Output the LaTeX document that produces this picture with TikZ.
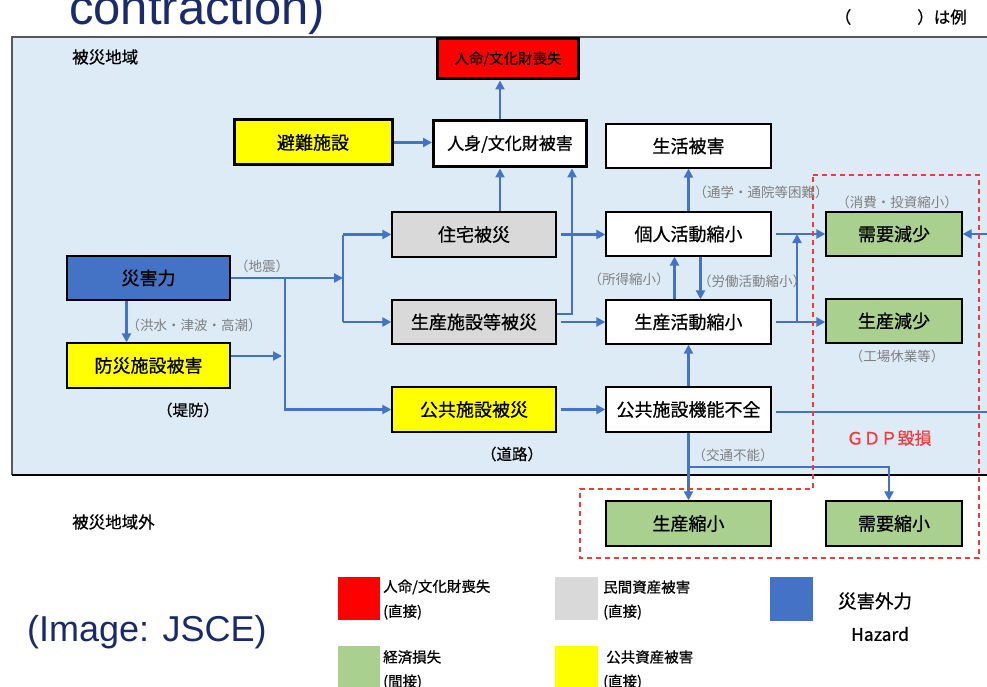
\documentclass[tikz,border=0pt]{standalone}
\usepackage{fontspec}
\setmainfont{Noto Sans CJK JP}
\newfontfamily\jpm[FakeBold=0.7]{Noto Sans CJK JP}
\newfontfamily\latfont{Liberation Sans}
\usetikzlibrary{arrows.meta,calc}
\definecolor{bgblue}{HTML}{DDEBF7}
\definecolor{arrowblue}{HTML}{4472C4}
\definecolor{hazblue}{HTML}{4472C4}
\definecolor{lossred}{HTML}{FF0000}
\definecolor{privgray}{HTML}{D9D9D9}
\definecolor{econgreen}{HTML}{A9D08E}
\definecolor{pubyellow}{HTML}{FFFF00}
\definecolor{labelgray}{HTML}{7F7F7F}
\definecolor{navy}{HTML}{1A2B6B}
\definecolor{dashred}{HTML}{F23A3A}
\newcommand\myfs[1]{\fontsize{#1}{#1}\selectfont}
\tikzset{
  box/.style={draw=black, line width=1.3pt, inner sep=0pt, font=\jpm\myfs{18}},
  thickbox/.style={draw=black, line width=3pt, inner sep=0pt},
  arr/.style={draw=arrowblue, line width=2.2pt, -{Triangle[length=9pt,width=9pt]}},
  bline/.style={draw=arrowblue, line width=2.2pt},
  glabel/.style={text=labelgray, font=\myfs{13.5}, inner sep=0pt},
  blabel/.style={text=black, font=\jpm\myfs{15.5}, inner sep=0pt},
  legtext/.style={text=black, font=\jpm\myfs{14.5}, inner sep=0pt, anchor=west},
  gdp/.style={draw=dashred, line width=1.4pt, dash pattern=on 5pt off 4pt},
}
\begin{document}
\begin{tikzpicture}[x=1pt,y=-1pt]
\useasboundingbox (0,0) rectangle (987,687);
\clip (0,0) rectangle (987,687);
\fill[white] (0,0) rectangle (987,687);

% title fragment and example note
\node[anchor=base west, text=navy, font={\latfont\fontsize{49}{49}\selectfont}, inner sep=0pt] (title) at (69,25) {contraction)};
\node[anchor=east, font=\jpm\myfs{16.5}, inner sep=0pt] (reinote) at (967,17) {（　　　　）は例};

% affected region background
\fill[bgblue] (12,37) rectangle (995,475);
\draw[draw=black!65, line width=1.3pt] (995,37) -- (12,37) -- (12,475);
\draw[draw=black, line width=2pt] (12,475) -- (995,475);
\node[font=\jpm\myfs{16.5}, anchor=west, inner sep=0pt] (inarea) at (72,57) {被災地域};
\node[font=\jpm\myfs{16.5}, anchor=west, inner sep=0pt] (outarea) at (72,522) {被災地域外};

% boxes
\node[thickbox, fill=lossred, minimum width=141, minimum height=40, font=\jpm\myfs{14.5}] (loss) at (508,59) {人命/文化財喪失};
\node[thickbox, fill=white, minimum width=153, minimum height=46, font=\jpm\myfs{17}] (body) at (510,144) {人身/文化財被害};
\node[thickbox, fill=pubyellow, minimum width=158, minimum height=45, font=\jpm\myfs{18}] (hinan) at (313,142.5) {避難施設};
\node[box, fill=white, minimum width=165, minimum height=44] (life) at (688.5,146) {生活被害};
\node[box, fill=privgray, minimum width=164, minimum height=45] (house) at (474,234.5) {住宅被災};
\node[box, fill=white, minimum width=165, minimum height=44] (pers) at (688.5,234) {個人活動縮小};
\node[box, fill=econgreen, minimum width=136, minimum height=44] (demand) at (894,234) {需要減少};
\node[box, fill=hazblue, minimum width=163, minimum height=44] (hazard) at (148.5,278) {災害力};
\node[box, fill=privgray, minimum width=164, minimum height=44] (prodfac) at (474,322) {生産施設等被災};
\node[box, fill=white, minimum width=165, minimum height=44] (prodact) at (688.5,322) {生産活動縮小};
\node[box, fill=econgreen, minimum width=136, minimum height=44] (prodred) at (894,321) {生産減少};
\node[box, fill=pubyellow, minimum width=163, minimum height=45] (protect) at (148.5,365.5) {防災施設被害};
\node[box, fill=pubyellow, minimum width=164, minimum height=45] (pubfac) at (474,409.5) {公共施設被災};
\node[box, fill=white, minimum width=165, minimum height=45] (pubfun) at (688.5,409.5) {公共施設機能不全};
\node[box, fill=econgreen, minimum width=165, minimum height=45] (prodshr) at (688.5,523.5) {生産縮小};
\node[box, fill=econgreen, minimum width=136, minimum height=45] (demshr) at (894,523.5) {需要縮小};

% junction coordinates
\coordinate (j1) at (343,278);
\coordinate (j2) at (285,278);
\coordinate (j3) at (797,322);
\coordinate (j4) at (688,467);
\coordinate (rin) at (990,234);
\coordinate (rout) at (990,412);

% connectors
\draw[arr] ([xshift=-10pt]body.north) -- ([xshift=-10pt]body.north |- loss.south);
\draw[arr] (hinan.east) -- (hinan.east -| body.west);
\draw[arr] ([xshift=26pt]house.north) -- ([xshift=26pt]house.north |- body.south);
\draw[arr] ([yshift=8pt]prodfac.east) -| ([xshift=62pt]body.south);
\draw[arr] ([xshift=4pt]house.east) -- (house.east -| pers.west);
\draw[arr] ([xshift=4pt]prodfac.east) -- (prodfac.east -| prodact.west);
\draw[arr] (hazard.east) -- (j1);
\draw[bline] (house.west -| j1) -- (prodfac.west -| j1);
\draw[arr] (house.west -| j1) -- (house.west);
\draw[arr] (prodfac.west -| j1) -- (prodfac.west);
\draw[arr] (j2) |- (pubfac.west);
\draw[arr] ([yshift=9.5pt]protect.east) -- ([yshift=9.5pt,xshift=-3pt]protect.east -| j2);
\draw[arr] ([xshift=-22pt]hazard.south) -- ([xshift=-22pt]hazard.south |- protect.north);
\draw[arr] ([xshift=4pt]pubfac.east) -- (pubfac.east -| pubfun.west);
\draw[arr] (pubfun.north) -- (prodact.south);
\draw[arr] (pers.north) -- (life.south);
\draw[arr] ([xshift=-14pt]prodact.north) -- ([xshift=-14pt]pers.south);
\draw[arr] ([xshift=12pt]pers.south) -- ([xshift=12pt]prodact.north);
\draw[arr] ([xshift=4pt]prodact.east) -- (prodact.east -| prodred.west);
\draw[arr] (prodact.east -| j3) -- (pers.east -| j3);
\draw[arr] ([xshift=4pt]pers.east) -- (pers.east -| demand.west);
\draw[arr] (rin) -- (demand.east);
\draw[bline] ([xshift=4pt,yshift=-2.5pt]pubfun.east) -- ([yshift=-2.5pt]pubfun.east -| rout);
\draw[arr] (pubfun.south) -- (prodshr.north);
\draw[arr] (j4) -| ([xshift=-5pt]demshr.north);

% GDP dashed region
\draw[gdp] (813,175) -- (979,175) -- (979,558) -- (580,558) -- (580,489) -- (813,489) -- cycle;
\node[text=dashred, font=\jpm\myfs{17}, inner sep=0pt] (gdplabel) at (889,438) {ＧＤＰ毀損};

% labels
\node[glabel] (lquake) at (262,266) {（地震）};
\node[glabel] (lflood) at (194,325) {（洪水・津波・高潮）};
\node[blabel] (lbank) at (188,410) {（堤防）};
\node[blabel] (lroad) at (512,454) {（道路）};
\node[glabel] (lcommute) at (761,192) {（通学・通院等困難）};
\node[glabel] (lconsume) at (897,202) {（消費・投資縮小）};
\node[glabel] (lincome) at (629,279) {（所得縮小）};
\node[glabel] (llabor) at (752,281) {（労働活動縮小）};
\node[glabel] (lfactory) at (897,356) {（工場休業等）};
\node[glabel] (ltraffic) at (733,455) {（交通不能）};

% legend
\fill[lossred] (338,577) rectangle (380,620);
\node[legtext] (lg1a) at (383,587) {人命/文化財喪失};
\node[legtext] (lg1b) at (383,612) {(直接)};
\fill[privgray] (555,577) rectangle (598,620);
\node[legtext] (lg2a) at (603,587) {民間資産被害};
\node[legtext] (lg2b) at (603,612) {(直接)};
\fill[hazblue] (770,577) rectangle (813,621);
\node[font=\jpm\myfs{18.5}, inner sep=0pt] (lg3a) at (875,601) {災害外力};
\node[font=\jpm\myfs{17.5}, inner sep=0pt] (lg3b) at (880,634) {Hazard};
\fill[econgreen] (338,646) rectangle (380,690);
\node[legtext] (lg4a) at (383,657) {経済損失};
\node[legtext] (lg4b) at (383,682) {(間接)};
\fill[pubyellow] (555,646) rectangle (598,690);
\node[legtext] (lg5a) at (606,657) {公共資産被害};
\node[legtext] (lg5b) at (603,682) {(直接)};

\node[anchor=west, text=navy, font={\latfont\fontsize{36}{36}\selectfont}, inner sep=0pt] (credit) at (27,632) {(Image: JSCE)};
\end{tikzpicture}
\end{document}
